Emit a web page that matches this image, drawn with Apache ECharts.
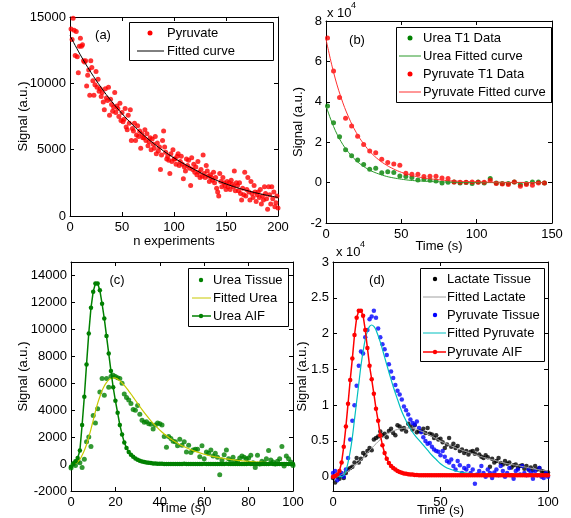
<!DOCTYPE html>
<html><head><meta charset="utf-8">
<script src="https://cdn.jsdelivr.net/npm/echarts@6/dist/echarts.min.js"></script>
<style>html,body{margin:0;padding:0;background:#fff}#c{width:571px;height:518px}</style>
</head><body><div id="c"></div>
<script>
// ---------- Panel (a): pyruvate signal vs n experiments (n = 1..200) ----------
const aSignal = [
14100,13300,14900,14000,12100,13900,12000,10800,12800,13400,
12800,12900,11700,11600,11700,9800,10600,11000,9100,11700,
11200,10200,9100,9900,10900,9700,10300,9400,9600,9000,
9300,8600,8000,9600,8900,8700,9700,7600,8800,8400,
7900,8200,9300,7800,8300,8100,7500,8500,7200,7800,
7100,7300,8100,6700,6500,7600,7000,8000,5700,6600,
6400,7000,5700,6100,6800,6000,6400,5100,6200,5900,
5900,6500,5700,6200,5300,5600,5900,5000,5800,5400,
5100,6000,4700,5500,4900,5200,3500,4600,5700,6400,
5200,4800,4300,4500,4200,3200,4700,4100,5000,4300,
4300,3900,4500,4700,3800,4100,4500,3900,2800,3700,
3400,4300,3800,4200,3600,2300,4400,3500,3900,3300,
3700,3100,4100,3300,2900,3500,3000,4600,3200,2900,
3800,3400,3000,2600,3100,2900,2700,3300,2500,2900,
2100,1800,1500,3200,2600,2200,2900,2500,2300,2000,
2600,2200,2500,2000,2700,2400,2200,3400,1900,2500,
2300,1900,2500,1700,1200,2100,1600,3300,1500,2000,
2900,1800,1200,2600,1700,1400,2300,1800,1100,1600,
1800,1400,2000,900,1500,1200,2200,1700,1300,500,
2200,1600,900,2200,1300,1800,700,1000,1500,600];
const aFitN = [0,10,20,30,40,50,60,70,80,90,100,110,120,130,140,150,160,170,180,190,200];
const aFitV = [13600,12140,10840,9680,8640,7720,6890,6150,5490,4900,4380,3910,3490,3080,2720,2420,2150,1920,1720,1550,1400];

// ---------- Panel (b): T1 decay (x10^4) ----------
const bT = [1,5,9,13,17,21,25,29,33,37,41,45,49,53,57,61,65,69,73,77,81,85,89,93,97,101,105,109,113,117,121,125,129,133,137,141,145];
const bUrea = [3.79,2.96,2.27,1.63,1.33,1.12,0.89,0.66,0.71,0.49,0.54,0.50,0.33,0.30,0.25,0.13,0.16,0.12,0.08,-0.02,0.02,0.03,-0.02,0.0,-0.05,0.03,-0.02,0.20,-0.02,-0.05,-0.05,0.03,-0.10,-0.05,0.03,0.03,-0.02];
const bPyr = [7.16,5.53,4.21,3.19,2.80,2.30,1.89,1.56,1.48,1.15,0.99,0.92,0.86,0.46,0.41,0.41,0.30,0.31,0.31,0.23,0.20,0.03,0.02,0.02,0.03,0.02,0.02,0.12,-0.05,-0.07,-0.10,0.03,-0.18,-0.10,-0.13,-0.02,-0.02];
const bFitT = [0,5,10,15,20,25,30,35,40,45,50,55,60,65,70,75,80,85,90,95,100,105,110,115,120,125,130,135,140,145];
const bUreaFit = [3.8,2.78,2.03,1.49,1.09,0.80,0.58,0.43,0.31,0.23,0.17,0.12,0.09,0.07,0.05,0.04,0.03,0.02,0.01,0.01,0,0,0,0,0,0,0,0,0,0];
const bPyrFit = [7.1,5.47,4.21,3.24,2.49,1.92,1.47,1.13,0.87,0.67,0.51,0.40,0.30,0.23,0.18,0.14,0.10,0.08,0.06,0.05,0.04,0.03,0.02,0.02,0.01,0.01,0.01,0,0,0];

// ---------- Panel (c): urea (t = 0..100 s) ----------
const cTissue = [-300,0,-100,200,100,-250,350,1650,2000,1300,
3600,3050,4100,5350,6350,5100,6350,5700,6500,6600,
6500,6400,6350,6000,5200,4950,4750,4500,4050,4000,
4350,3700,3250,3100,3150,3000,2950,2600,2900,3050,
3000,2900,2050,1250,2050,1900,1700,1650,1350,1850,
1400,1650,900,1400,850,1050,1100,1100,550,1350,
400,900,800,1050,600,800,500,-800,300,700,
1050,400,250,500,150,200,450,600,500,400,
450,650,100,-250,650,0,200,100,400,1000,
300,150,0,200,400,1300,-150,600,400,150,-100];
const cAIF = [-200,50,200,450,1000,2900,5000,7400,9700,11600,
12800,13400,13400,12900,11900,10800,9500,8200,6900,5700,
4700,3800,2900,2200,1600,1200,900,700,550,420,
320,250,190,150,120,90,70,50,40,30,
20,20,10,10,10,0,10,10,0,10,
10,20,10,10,0,10,10,0,10,10,
20,10,10,10,0,10,10,0,10,10,
20,10,10,10,0,10,10,0,10,10,
20,10,10,10,0,10,10,0,10,10,
20,10,10,10,0,10,10,0,10,10,10];
const cFitT = [0,1,2,3,4,5,6,7,8,9,10,11,12,13,14,15,16,17,18,19,20,21,22,23,24,25,26,27,28,30,32,34,36,38,40,42,44,46,48,50,55,60,65,70,75,80,85,90,95,100];
const cFitV = [0,0,50,150,350,650,1000,1450,2000,2600,3250,3900,4500,5000,5450,5800,6050,6250,6350,6400,6380,6300,6180,6020,5840,5640,5420,5200,4970,4500,4040,3610,3210,2850,2520,2230,1970,1740,1540,1360,1000,730,530,390,280,200,140,100,70,50];

// ---------- Panel (d): lactate / pyruvate (x10^4, t = 0..100 s) ----------
const dLactate = [-0.02,-0.08,0.0,-0.03,0.02,-0.02,0.05,0.10,0.12,0.14,
0.20,0.26,0.20,0.25,0.33,0.30,0.36,0.40,0.37,0.52,
0.54,0.56,0.63,0.58,0.60,0.55,0.64,0.67,0.61,0.58,
0.72,0.70,0.66,0.68,0.63,0.74,0.70,0.66,0.72,0.62,
0.64,0.63,0.67,0.61,0.68,0.60,0.59,0.54,0.58,0.52,
0.53,0.48,0.40,0.45,0.54,0.42,0.46,0.40,0.43,0.36,
0.38,0.33,0.36,0.31,0.35,0.36,0.32,0.38,0.31,0.28,
0.26,0.30,0.27,0.14,0.25,0.20,0.22,0.26,0.19,0.17,
0.22,0.18,0.20,0.13,0.16,0.17,0.12,0.15,0.16,0.11,
0.15,0.10,0.13,0.09,0.15,0.10,0.12,0.08,0.07,0.05,0.06];
const dPyrTissue = [0.05,0.08,-0.05,0.02,0.05,0.0,0.10,0.26,0.52,0.78,
1.00,1.27,1.55,1.75,1.72,1.95,2.05,2.20,2.24,2.32,
2.22,2.07,1.95,1.85,1.78,1.70,1.57,1.47,1.38,1.28,
1.20,1.15,1.08,0.98,0.93,0.87,0.80,0.75,0.73,0.77,
0.68,0.62,0.55,0.50,0.46,0.47,0.42,0.38,0.36,0.35,
0.30,0.36,0.28,0.22,0.20,0.24,0.15,0.10,0.22,0.16,
0.05,0.12,0.10,0.15,0.05,0.10,-0.10,0.03,0.08,0.15,
0.05,0.0,0.10,0.05,-0.02,0.06,0.10,0.02,0.15,0.08,
0.0,0.05,0.12,0.02,-0.03,0.08,0.10,0.03,0.15,0.05,
0.02,0.10,0.06,-0.03,0.08,0.02,0.12,0.0,-0.02,0.05,0.0];
const dAIF = [0,0.01,0.03,0.08,0.20,0.42,0.70,1.02,1.35,1.65,
1.98,2.22,2.32,2.32,2.25,2.05,1.80,1.55,1.36,1.16,
0.95,0.78,0.58,0.44,0.33,0.25,0.19,0.15,0.12,0.10,
0.08,0.065,0.055,0.045,0.04,0.035,0.03,0.03,0.025,0.025,
0.02,0.02,0.02,0.02,0.02,0.02,0.02,0.02,0.02,0.02,
0.02,0.02,0.02,0.02,0.02,0.02,0.02,0.02,0.02,0.02,
0.02,0.02,0.02,0.02,0.02,0.02,0.02,0.02,0.02,0.02,
0.02,0.02,0.02,0.02,0.02,0.02,0.02,0.02,0.02,0.02,
0.02,0.02,0.02,0.02,0.02,0.02,0.02,0.02,0.02,0.02,
0.02,0.02,0.02,0.02,0.02,0.02,0.02,0.02,0.02,0.02,0.02];
const dLacFitT = [0,2,4,6,8,10,12,14,16,18,20,22,24,26,28,30,32,34,36,38,40,45,50,55,60,65,70,75,80,85,90,95,100];
const dLacFitV = [0,0,0.03,0.06,0.10,0.15,0.20,0.26,0.33,0.40,0.46,0.52,0.57,0.61,0.64,0.66,0.675,0.68,0.68,0.67,0.65,0.58,0.50,0.43,0.37,0.32,0.27,0.23,0.19,0.16,0.13,0.10,0.08];
const dPyrFitT = [0,4,5,6,7,8,9,10,11,12,13,14,15,16,17,18,19,20,22,24,26,28,30,32,34,36,38,40,42,44,46,48,50,52,54,56,60,65,70,80,90,100];
const dPyrFitV = [0,0,0.02,0.08,0.20,0.35,0.55,0.80,1.05,1.30,1.55,1.75,1.92,2.03,2.10,2.12,2.10,2.05,1.88,1.67,1.46,1.26,1.08,0.91,0.78,0.67,0.58,0.51,0.44,0.37,0.30,0.24,0.18,0.14,0.11,0.09,0.06,0.04,0.03,0.02,0.015,0.01];

// ---------- tick values ----------
const aXTicks = [0,50,100,150,200], aYTicks = [0,5000,10000,15000];
const bXTicks = [0,50,100,150], bYTicks = [-2,0,2,4,6,8];
const cXTicks = [0,20,40,60,80,100], cYTicks = [-2000,0,2000,4000,6000,8000,10000,12000,14000];
const dXTicks = [0,50,100], dYTicks = [0,0.5,1,1.5,2,2.5,3];

const FONT = '"Liberation Sans", Arial, Helvetica, sans-serif';
const BLACK = '#000';

function pairs(xs, ys){ return ys.map((v,i)=>[xs[i], v]); }
function idx(ys, off){ return ys.map((v,i)=>[i+off, v]); }

function xAxes(gi, min, max, ticks, name, nameGap){
  const base = {gridIndex:gi, type:'value', min, max, splitLine:{show:false},
    axisLine:{show:true, onZero:false, lineStyle:{color:BLACK, width:1}}};
  return [
    Object.assign({}, base, {position:'bottom', name, nameLocation:'middle', nameGap, nameMoveOverlap:false,
      nameTextStyle:{color:BLACK, fontSize:13, fontFamily:FONT},
      axisTick:{show:true, inside:true, length:4, customValues:ticks, lineStyle:{color:BLACK}},
      axisLabel:{show:true, customValues:ticks, color:BLACK, fontSize:13, fontFamily:FONT, margin:5, formatter:v=>String(v)}}),
    Object.assign({}, base, {position:'top',
      axisTick:{show:true, inside:true, length:4, customValues:ticks, lineStyle:{color:BLACK}},
      axisLabel:{show:false}})
  ];
}
function yAxes(gi, min, max, ticks, name, nameGap){
  const base = {gridIndex:gi, type:'value', min, max, splitLine:{show:false},
    axisLine:{show:true, onZero:false, lineStyle:{color:BLACK, width:1}}};
  return [
    Object.assign({}, base, {position:'left', name, nameLocation:'middle', nameGap, nameMoveOverlap:false,
      nameTextStyle:{color:BLACK, fontSize:13, fontFamily:FONT},
      axisTick:{show:true, inside:true, length:4, customValues:ticks, lineStyle:{color:BLACK}},
      axisLabel:{show:true, customValues:ticks, color:BLACK, fontSize:13, fontFamily:FONT, margin:4, formatter:v=>String(v)}}),
    Object.assign({}, base, {position:'right',
      axisTick:{show:true, inside:true, length:4, customValues:ticks, lineStyle:{color:BLACK}},
      axisLabel:{show:false}})
  ];
}

function scatter(gi, data, color, size){
  return {type:'scatter', xAxisIndex:gi*2, yAxisIndex:gi*2, data, symbol:'circle', symbolSize:size,
    itemStyle:{color}, silent:true};
}
function curve(gi, data, color, width){
  return {type:'line', xAxisIndex:gi*2, yAxisIndex:gi*2, data, showSymbol:false, symbol:'none',
    smooth:0.4, lineStyle:{color, width}, silent:true};
}
function markedLine(gi, data, color){
  return {type:'line', xAxisIndex:gi*2, yAxisIndex:gi*2, data, symbol:'circle', symbolSize:4.5, showSymbol:true,
    lineStyle:{color, width:1.5}, itemStyle:{color}, silent:true};
}

// legends drawn as graphic boxes (MATLAB style)
const graphics = [];
function txt(x, y, s, size, align){
  graphics.push({type:'text', x, y, z:101, silent:true,
    style:{text:s, font:(size||13)+'px '+FONT, fill:BLACK, verticalAlign:'middle', align:align||'left'}});
}
function legendBox(x, y, w, h, mx, lx1, lx2, tx, rows){
  graphics.push({type:'rect', z:100, silent:true, shape:{x:x+0.5, y:y+0.5, width:w, height:h},
    style:{fill:'#fff', stroke:BLACK, lineWidth:1}});
  rows.forEach(r=>{
    if (r.line) graphics.push({type:'line', z:101, silent:true, shape:{x1:lx1, y1:r.y, x2:lx2, y2:r.y},
      style:{stroke:r.color, lineWidth:r.lw||1}});
    if (r.dot) graphics.push({type:'circle', z:102, silent:true, shape:{cx:mx, cy:r.y, r:r.dot},
      style:{fill:r.color}});
    txt(tx, r.y, r.text);
  });
}
legendBox(129, 22, 144, 38, 150, 137, 164, 167, [
  {y:33, text:'Pyruvate', dot:2.5, color:'#ff0000'},
  {y:51, text:'Fitted curve', line:true, color:BLACK}]);
legendBox(396, 27, 155, 75, 410, 399, 421, 423, [
  {y:38, text:'Urea T1 Data', dot:2.5, color:'#008000'},
  {y:56, text:'Urea Fitted curve', line:true, color:'#2a9a2a'},
  {y:74, text:'Pyruvate T1 Data', dot:2.5, color:'#ff0000'},
  {y:92, text:'Pyruvate Fitted curve', line:true, color:'#ff3030'}]);
legendBox(188, 268, 100, 58, 201, 192, 211, 213, [
  {y:280, text:'Urea Tissue', dot:2.2, color:'#008000'},
  {y:298, text:'Fitted Urea', line:true, color:'#c8c800'},
  {y:316, text:'Urea AIF', line:true, lw:1.5, dot:2.2, color:'#008000'}]);
legendBox(420, 268, 124, 93, 435, 423, 446, 447, [
  {y:279, text:'Lactate Tissue', dot:2.2, color:BLACK},
  {y:297, text:'Fitted Lactate', line:true, color:'#a0a0a0'},
  {y:315, text:'Pyruvate Tissue', dot:2.2, color:'#0000ff'},
  {y:333, text:'Fitted Pyruvate', line:true, color:'#00bfbf'},
  {y:352, text:'Pyruvate AIF', line:true, lw:1.5, dot:2.2, color:'#ff0000'}]);
// panel tags
txt(103, 35, '(a)', 13, 'center');
txt(357, 40, '(b)', 13, 'center');
txt(117, 280, '(c)', 13, 'center');
txt(377, 280, '(d)', 13, 'center');
// exponent labels
txt(327, 13, 'x 10', 13, 'left');
txt(351, 6, '4', 9, 'left');
txt(336, 252, 'x 10', 13, 'left');
txt(360, 245, '4', 9, 'left');

const option = {
  animation:false,
  backgroundColor:'#fff',
  grid:[
    {left:70, top:17, width:208, height:199},
    {left:326, top:21, width:226, height:202},
    {left:71, top:262, width:222, height:229},
    {left:333, top:262, width:215, height:233}
  ],
  xAxis:[].concat(
    xAxes(0, 0, 200, aXTicks, 'n experiments', 19),
    xAxes(1, 0, 150, bXTicks, 'Time (s)', 17),
    xAxes(2, 0, 100, cXTicks, 'Time (s)', 11),
    xAxes(3, 0, 100, dXTicks, 'Time (s)', 13)),
  yAxis:[].concat(
    yAxes(0, 0, 15000, aYTicks, 'Signal (a.u.)', 40),
    yAxes(1, -2, 8, bYTicks, 'Signal (a.u.)', 21),
    yAxes(2, -2000, 15000, cYTicks, 'Signal (a.u.)', 41),
    yAxes(3, -0.2, 3, dYTicks, 'Signal (a.u.)', 24)),
  graphic: graphics,
  series:[
    scatter(0, idx(aSignal, 1), '#ff0000', 5),
    curve(0, pairs(aFitN, aFitV), BLACK, 1),
    scatter(1, pairs(bT, bUrea), '#008000', 5),
    curve(1, pairs(bFitT, bUreaFit), '#2a9a2a', 1),
    scatter(1, pairs(bT, bPyr), '#ff0000', 5),
    curve(1, pairs(bFitT, bPyrFit), '#ff3030', 1),
    scatter(2, idx(cTissue, 0), '#008000', 5),
    curve(2, pairs(cFitT, cFitV), '#c8c800', 1.2),
    markedLine(2, idx(cAIF, 0), '#008000'),
    scatter(3, idx(dLactate, 0), BLACK, 4.5),
    curve(3, pairs(dLacFitT, dLacFitV), '#a0a0a0', 1),
    scatter(3, idx(dPyrTissue, 0), '#0000ff', 4.5),
    curve(3, pairs(dPyrFitT, dPyrFitV), '#00bfbf', 1.2),
    markedLine(3, idx(dAIF, 0), '#ff0000')
  ]
};
const chart = echarts.init(document.getElementById('c'), null, {renderer:'canvas'});
chart.setOption(option);
</script></body></html>
